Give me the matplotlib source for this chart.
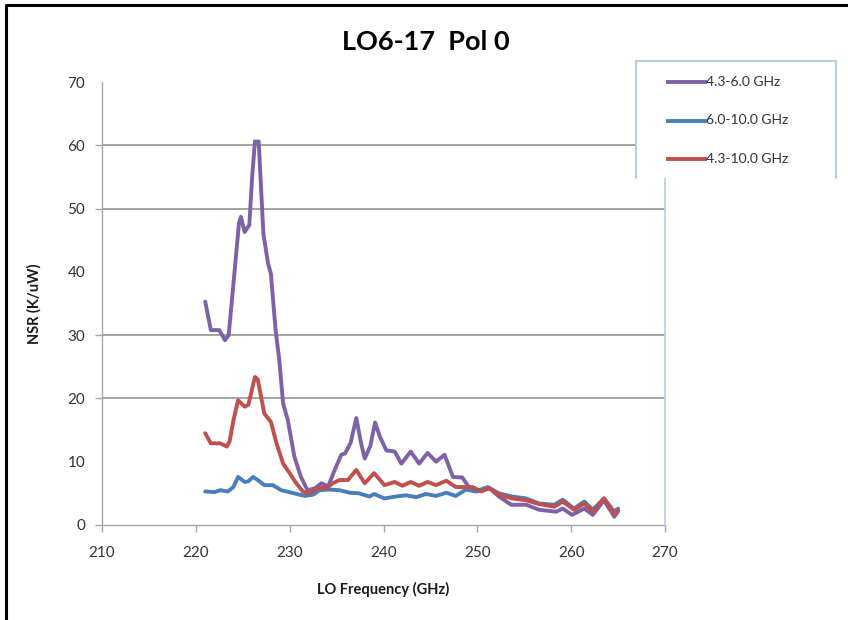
import matplotlib
matplotlib.use("Agg")
import matplotlib.pyplot as plt
from matplotlib.lines import Line2D

plt.rcParams['font.family'] = ['Lato', 'DejaVu Sans']

# Daten
x_low = [221.0, 221.6, 222.5, 223.1, 223.5, 224.0, 224.6, 224.8, 225.2, 225.7, 226.0, 226.3,
         226.7, 227.2, 227.7, 228.0, 228.5, 228.9, 229.3, 229.8, 230.5, 231.2, 231.9, 232.7,
         233.4, 234.1, 234.8, 235.5, 235.9, 236.5, 237.1, 237.6, 238.0, 238.6, 239.1, 239.6,
         240.3, 241.2, 241.9, 242.9, 243.8, 244.7, 245.6, 246.5, 247.4, 248.4, 249.1, 249.9,
         251.3, 252.3, 253.6, 255.2, 256.6, 258.4, 259.1, 260.1, 261.4, 262.3, 263.5, 264.6, 265.0]
y_low = [35.3, 30.8, 30.8, 29.2, 30.0, 38.0, 47.7, 48.7, 46.3, 47.4, 55.0, 60.6,
         60.6, 46.0, 41.3, 39.7, 30.8, 26.0, 19.2, 16.6, 10.8, 7.6, 5.5, 5.8,
         6.6, 6.1, 8.7, 11.1, 11.3, 13.0, 16.9, 13.0, 10.5, 12.5, 16.2, 14.0,
         11.8, 11.6, 9.7, 11.6, 9.7, 11.4, 10.0, 11.1, 7.6, 7.5, 6.0, 5.3,
         5.8, 4.5, 3.2, 3.2, 2.4, 2.1, 2.6, 1.6, 2.6, 1.6, 3.9, 1.3, 2.2]

x_high = [221.0, 222.0, 222.6, 223.4, 224.0, 224.5, 225.2, 225.6, 226.1, 226.7, 227.3, 228.2,
          229.1, 230.5, 231.6, 232.5, 233.2, 234.2, 235.3, 236.4, 237.4, 238.5, 239.0, 240.1,
          241.3, 242.4, 243.5, 244.5, 245.6, 246.7, 247.7, 248.8, 249.8, 251.1, 252.3, 253.7,
          255.2, 256.6, 258.2, 259.1, 260.3, 261.4, 262.3, 263.5, 264.6, 265.0]
y_high = [5.3, 5.2, 5.5, 5.3, 6.0, 7.6, 6.8, 6.9, 7.6, 7.0, 6.3, 6.3,
          5.5, 5.0, 4.6, 4.8, 5.5, 5.6, 5.5, 5.1, 5.0, 4.5, 4.9, 4.2,
          4.5, 4.7, 4.4, 4.9, 4.6, 5.1, 4.6, 5.6, 5.3, 6.0, 5.0, 4.5,
          4.2, 3.4, 3.2, 4.0, 2.6, 3.7, 2.4, 4.2, 2.1, 2.6]

x_all = [221.0, 221.6, 222.6, 223.3, 223.6, 224.0, 224.5, 225.2, 225.6, 226.0, 226.3, 226.6,
         227.3, 228.0, 228.6, 229.3, 230.0, 230.7, 231.4, 232.1, 233.0, 234.0, 234.6, 235.3,
         236.2, 237.1, 238.0, 239.0, 240.1, 241.2, 242.0, 242.9, 243.8, 244.7, 245.6, 246.7,
         247.7, 248.8, 249.5, 250.4, 251.3, 252.5, 253.7, 255.2, 256.6, 258.2, 259.1, 260.3,
         261.4, 262.3, 263.5, 264.6, 265.0]
y_all = [14.5, 12.9, 12.9, 12.4, 13.2, 16.5, 19.7, 18.7, 19.0, 21.5, 23.4, 23.0,
         17.6, 16.3, 12.9, 9.7, 8.2, 6.6, 5.3, 5.0, 5.8, 5.9, 6.6, 7.1,
         7.1, 8.7, 6.6, 8.2, 6.3, 6.8, 6.2, 6.8, 6.2, 6.8, 6.3, 7.0,
         6.0, 6.0, 6.0, 5.3, 5.8, 4.7, 4.2, 3.9, 3.3, 2.9, 3.7, 2.4,
         3.4, 2.1, 4.2, 1.8, 2.2]

labels = ['4.3-6.0 GHz', '6.0-10.0 GHz', '4.3-10.0 GHz']
colors = ['#7f62a6', '#4a7ebb', '#c0504d']
x_ticks = [210, 220, 230, 240, 250, 260, 270]
y_ticks = [0, 10, 20, 30, 40, 50, 60, 70]
grid_y = [20, 30, 50, 60]

fig = plt.figure(figsize=(8.48, 6.2), dpi=100)
ax = fig.add_axes([102 / 848, 1 - 525 / 620, 563 / 848, 443 / 620])

# Gitterlinien
ax.hlines(grid_y, 210, 270, color='#8c8c8c', lw=1.1, zorder=1)

for xs, ys, c in zip([x_low, x_high, x_all], [y_low, y_high, y_all], colors):
    ax.plot(xs, ys, color=c, lw=2.8, solid_joinstyle='round', solid_capstyle='round', zorder=3)

ax.set_xlim(210, 270)
ax.set_ylim(0, 70)
ax.set_xticks(x_ticks)
ax.set_yticks(y_ticks)

for s in ['top', 'right']:
    ax.spines[s].set_visible(False)
for s in ['left', 'bottom']:
    ax.spines[s].set_color('#a6a6a6')
    ax.spines[s].set_linewidth(1.0)

ax.tick_params(axis='both', colors='#a6a6a6', length=5, width=1.0, labelsize=11, labelcolor='#333333')
ax.tick_params(axis='y', pad=7)
ax.tick_params(axis='x', pad=10)
# einige Striche fehlen im Original
for i, v in enumerate(y_ticks):
    if v in (10, 40, 70):
        ax.yaxis.get_major_ticks()[i].tick1line.set_visible(False)

ax.set_xlabel('LO Frequency (GHz)', fontsize=10.5, fontweight='bold', color='#1a1a1a')
ax.set_ylabel('NSR (K/uW)', fontsize=10.5, fontweight='bold', color='#1a1a1a')
ax.xaxis.set_label_coords(0.5, -0.128)
ax.yaxis.set_label_coords(-0.108, 0.5)

# rechter Rand der Zeichenfläche
fig.add_artist(Line2D([665 / 848, 665 / 848], [1 - 525 / 620, 1 - 178 / 620], color='#b8cce4', lw=1.2))

# Titel
fig.text(426 / 848, 1 - 42 / 620, 'LO6-17  Pol 0', ha='center', va='center', fontsize=19.5, fontweight='bold')

# Legende als Kasten
lx0, lx1, ly0, ly1 = 636 / 848, 836 / 848, 1 - 178 / 620, 1 - 61 / 620
fig.patches.append(plt.Rectangle((lx0, ly0), lx1 - lx0, ly1 - ly0, transform=fig.transFigure,
                                 facecolor='white', edgecolor='none', zorder=4))
fig.add_artist(Line2D([lx0, lx0, lx1, lx1], [ly0, ly1, ly1, ly0], color='#a8bfe0', lw=1.2, zorder=5))
for k, (lab, c) in enumerate(zip(labels, colors)):
    yy = 1 - (82 + k * 38.5) / 620
    fig.add_artist(Line2D([668 / 848, 705 / 848], [yy, yy], color=c, lw=2.8, zorder=6))
    fig.text(706 / 848, yy, lab, ha='left', va='center', fontsize=10, color='#333333', zorder=6)

# schwarzer Rahmen links und oben
fig.add_artist(Line2D([6 / 848, 6 / 848, 1.0], [0.0, 1 - 5 / 620, 1 - 5 / 620], color='black', lw=2.2))

fig.savefig('out.png', dpi=100)
